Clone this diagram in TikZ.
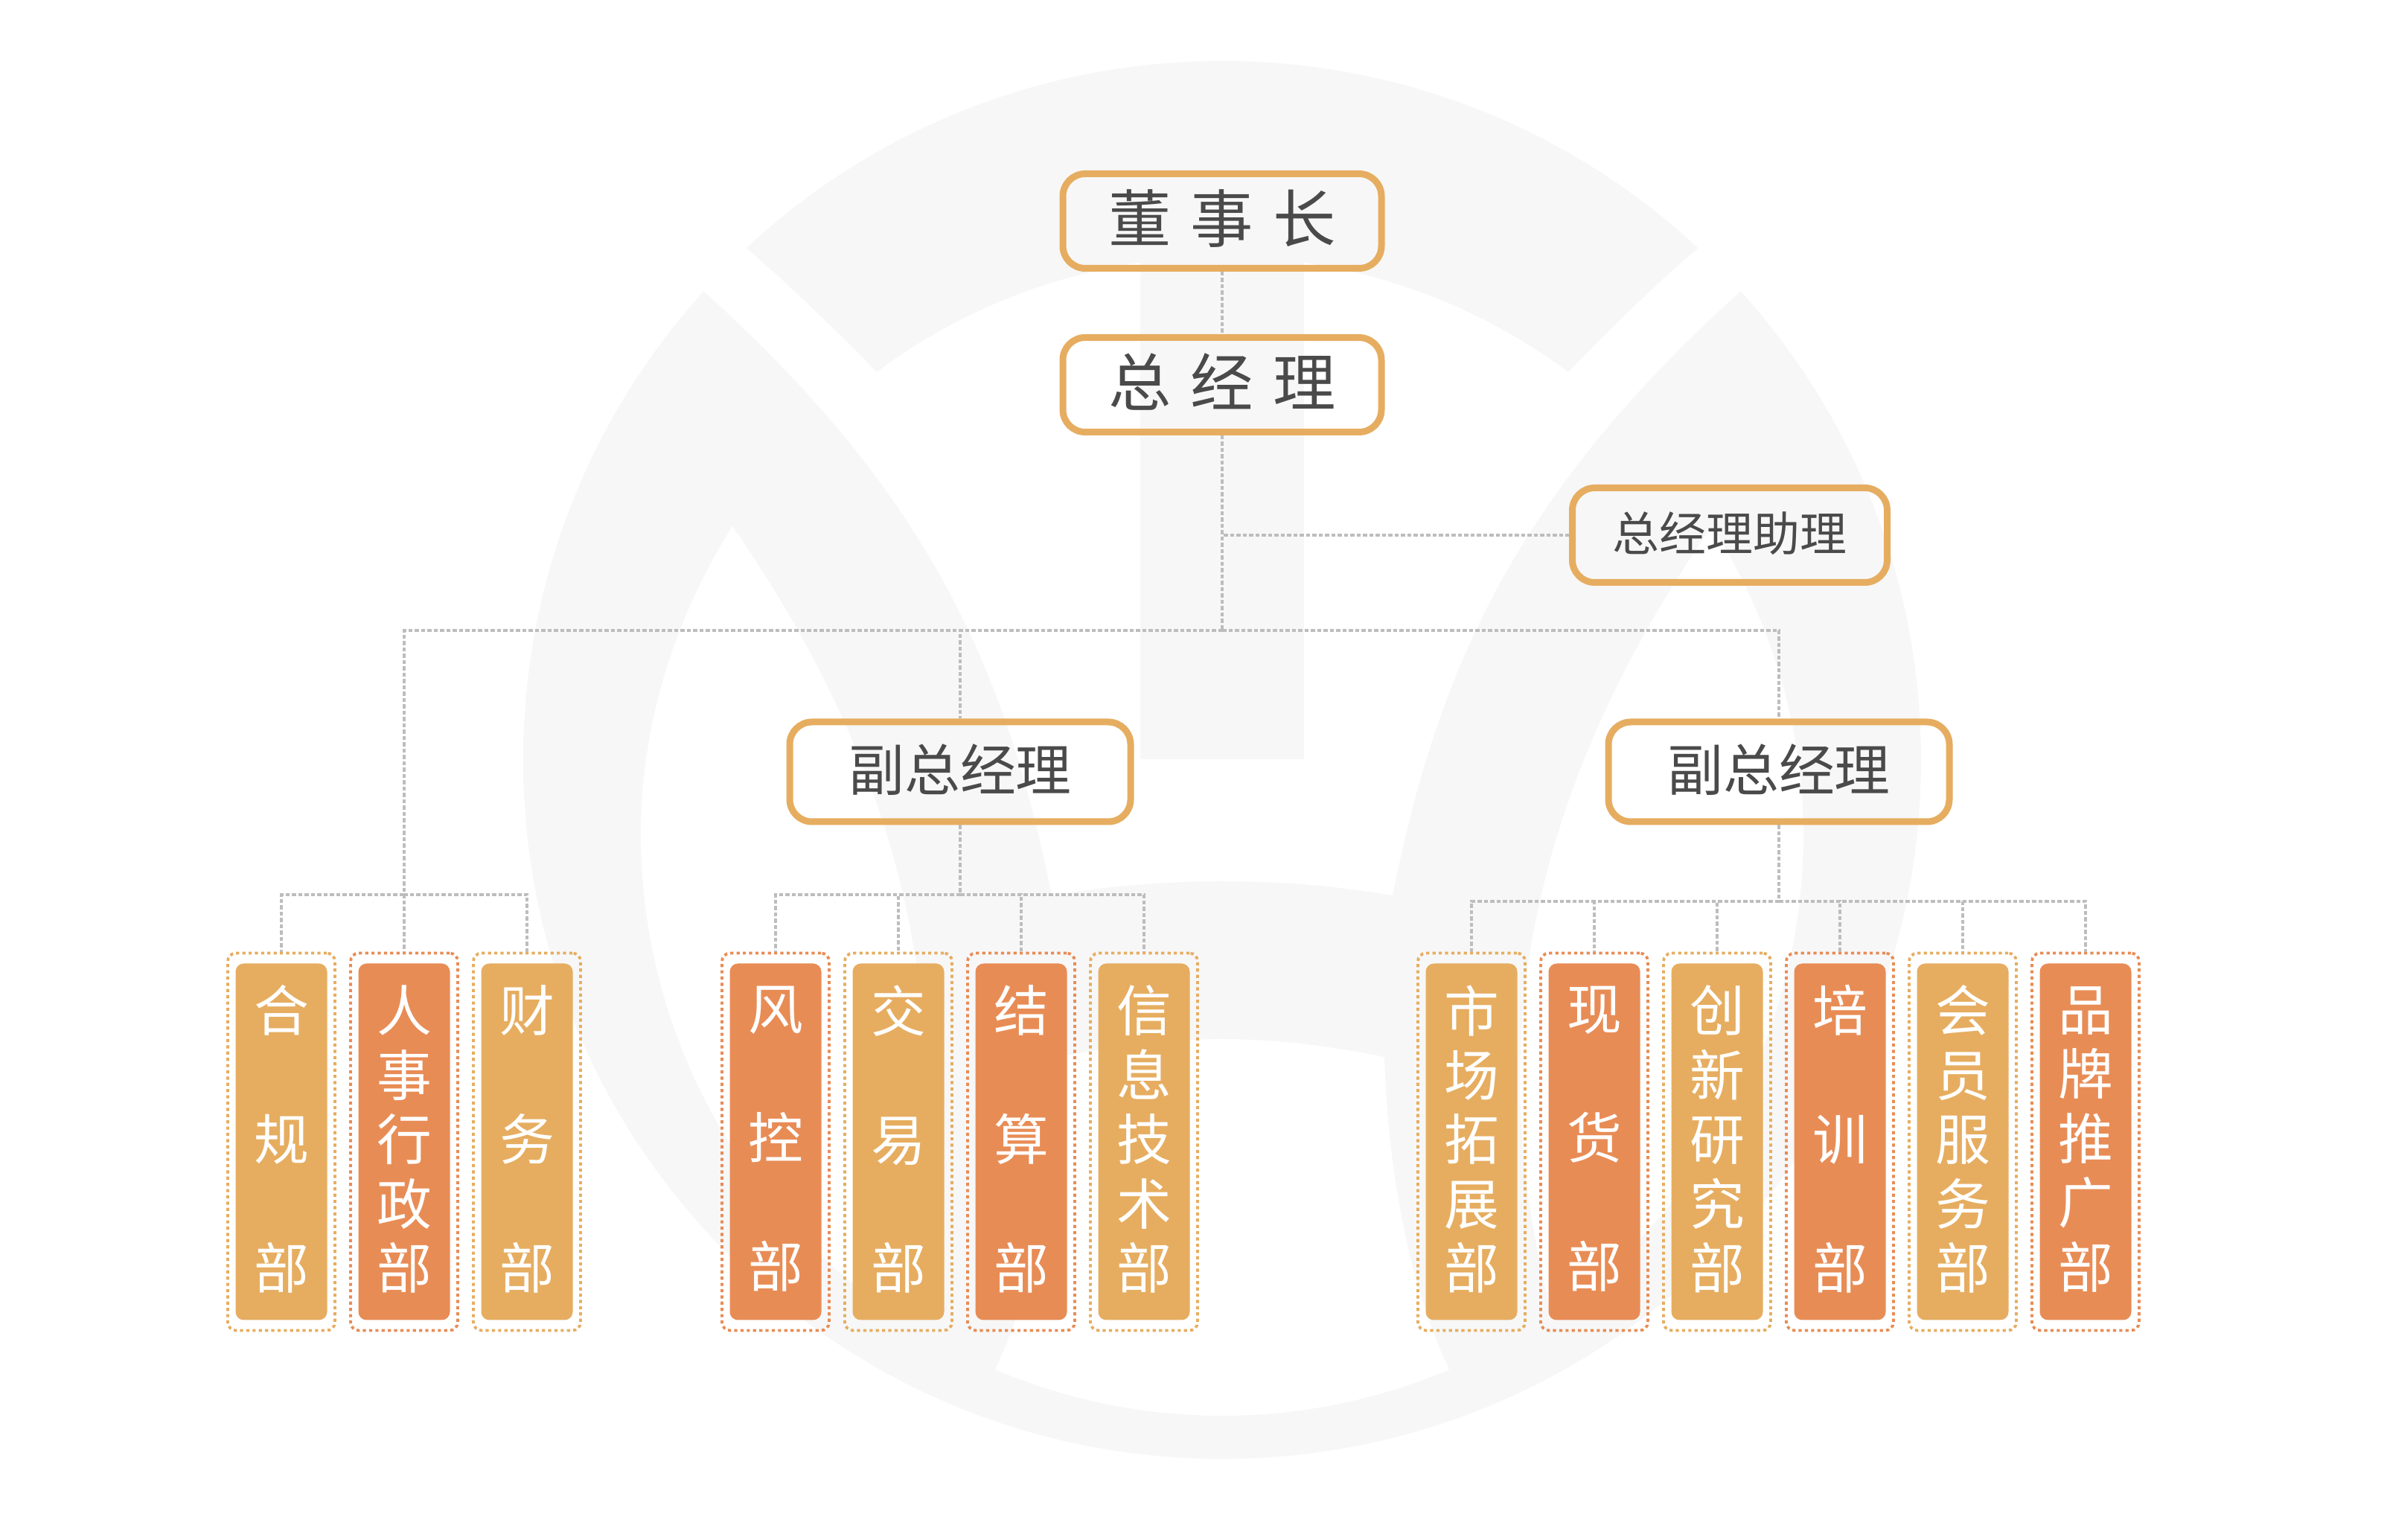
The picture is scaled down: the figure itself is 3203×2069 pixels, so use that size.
\documentclass[tikz,border=0pt]{standalone}
\usepackage{fontspec}
\setmainfont{Noto Sans CJK SC}
\usetikzlibrary{positioning}

\definecolor{gold}{HTML}{E6AD60}
\definecolor{coral}{HTML}{E88C55}
\definecolor{ink}{HTML}{4A4A4A}
\definecolor{wash}{HTML}{F7F7F7}
\definecolor{linkgray}{HTML}{BDBDBD}

\newcommand{\wgap}{\hskip 2.6mm}

\tikzset{
  head/.style={draw=gold, line width=0.9mm, rounded corners=3mm, text=ink,
    inner sep=0pt, minimum height=12.7mm},
  top head/.style={head, minimum width=42.8mm, text height=20.2pt, text depth=3.8pt,
    font=\fontsize{24pt}{26pt}\selectfont},
  vice head/.style={head, minimum width=45.8mm, minimum height=13.4mm, text height=17.9pt, text depth=3.4pt,
    font=\fontsize{21.3pt}{24pt}\selectfont},
  aide head/.style={head, minimum width=42.3mm, text height=15pt, text depth=2.9pt,
    font=\fontsize{17.9pt}{20pt}\selectfont},
  card/.style={text=white, rounded corners=1.1mm, inner sep=0pt, outer sep=0pt, align=center,
    minimum width=12.3mm, minimum height=47.9mm, text depth=3.6pt,
    font=\fontsize{21pt}{24.6pt}\selectfont},
  card gold/.style={card, fill=gold},
  card coral/.style={card, fill=coral},
  frame/.style={line width=0.38mm, dash pattern=on 0.42mm off 0.42mm, rounded corners=1.1mm,
    inner sep=0pt, minimum width=14.4mm, minimum height=50.7mm},
  frame gold/.style={frame, draw=gold},
  frame coral/.style={frame, draw=coral},
  link/.style={draw=linkgray, line width=0.4mm, dash pattern=on 0.55mm off 0.3mm},
}

\begin{document}
\begin{tikzpicture}[x=0.1mm,y=-0.1mm]
  \useasboundingbox (0,0) rectangle (3203,2069);
  \fill[white] (0,0) rectangle (3203,2069);

  % watermark
  \fill[wash] (1642,1021) circle [radius=9.39cm];
  \fill[white] (905,350) -- (945,391)
    .. controls (1250,665) and (1353,903) .. (1413,1203)
    .. controls (1490,1190) and (1565,1184) .. (1642,1184)
    .. controls (1719,1184) and (1794,1190) .. (1871,1203)
    .. controls (1931,903) and (2034,665) .. (2339,391)
    -- (2379,350) -- (2314,303) -- (2282,333)
    .. controls (2222,384) and (2165,440) .. (2107,500)
    .. controls (1973,400) and (1809,345) .. (1642,345)
    .. controls (1475,345) and (1311,400) .. (1178,500)
    .. controls (1119,440) and (1062,384) .. (1002,333)
    -- (970,303) -- cycle;
  \fill[white] (984,707)
    .. controls (906,831) and (861,974) .. (861,1121)
    .. controls (861,1378) and (988,1620) .. (1200,1765)
    .. controls (1225,1660) and (1242,1560) .. (1242,1450)
    .. controls (1242,1200) and (1154,952) .. (984,707) -- cycle;
  \fill[white] (2300,707)
    .. controls (2378,831) and (2423,974) .. (2423,1121)
    .. controls (2423,1378) and (2296,1620) .. (2084,1765)
    .. controls (2059,1660) and (2042,1560) .. (2042,1450)
    .. controls (2042,1200) and (2130,952) .. (2300,707) -- cycle;
  \fill[white] (1424,1420)
    .. controls (1500,1405) and (1570,1396) .. (1642,1396)
    .. controls (1714,1396) and (1784,1405) .. (1860,1420)
    .. controls (1864,1560) and (1890,1720) .. (1947,1840)
    .. controls (1850,1881) and (1747,1902) .. (1642,1902)
    .. controls (1537,1902) and (1434,1881) .. (1337,1840)
    .. controls (1394,1720) and (1420,1560) .. (1424,1420) -- cycle;
  \fill[wash] (1532,340) rectangle (1752,1020);

  % heads
  \node[top head]  (chair) at (1642,297)  {董\wgap 事\wgap 长};
  \node[top head]  (gm)    at (1642,517)  {总\wgap 经\wgap 理};
  \node[aide head] (aide)  at (2324,719)  {总经理助理};
  \node[vice head] (vp_a)  at (1290,1037) {副总经理};
  \node[vice head] (vp_b)  at (2390,1037) {副总经理};

  % left group
  \node[card gold]  (c_1) at (378,1534)      {合\\[24.6pt]规\\[24.6pt]部};
  \node[card coral] (c_2) [right=4.2mm of c_1] {人\\事\\行\\政\\部};
  \node[card gold]  (c_3) [right=4.2mm of c_2] {财\\[24.6pt]务\\[24.6pt]部};

  % middle group
  \node[card coral] (c_4) at (1042,1534)     {风\\[24.6pt]控\\[24.6pt]部};
  \node[card gold]  (c_5) [right=4.2mm of c_4] {交\\[24.6pt]易\\[24.6pt]部};
  \node[card coral] (c_6) [right=4.2mm of c_5] {结\\[24.6pt]算\\[24.6pt]部};
  \node[card gold]  (c_7) [right=4.2mm of c_6] {信\\息\\技\\术\\部};

  % right group
  \node[card gold]  (c_8)  at (1977,1534)     {市\\场\\拓\\展\\部};
  \node[card coral] (c_9)  [right=4.2mm of c_8]  {现\\[24.6pt]货\\[24.6pt]部};
  \node[card gold]  (c_10) [right=4.2mm of c_9]  {创\\新\\研\\究\\部};
  \node[card coral] (c_11) [right=4.2mm of c_10] {培\\[24.6pt]训\\[24.6pt]部};
  \node[card gold]  (c_12) [right=4.2mm of c_11] {会\\员\\服\\务\\部};
  \node[card coral] (c_13) [right=4.2mm of c_12] {品\\牌\\推\\广\\部};

  \node[frame gold]  (f_1)  at (c_1)  {};
  \node[frame coral] (f_2)  at (c_2)  {};
  \node[frame gold]  (f_3)  at (c_3)  {};
  \node[frame coral] (f_4)  at (c_4)  {};
  \node[frame gold]  (f_5)  at (c_5)  {};
  \node[frame coral] (f_6)  at (c_6)  {};
  \node[frame gold]  (f_7)  at (c_7)  {};
  \node[frame gold]  (f_8)  at (c_8)  {};
  \node[frame coral] (f_9)  at (c_9)  {};
  \node[frame gold]  (f_10) at (c_10) {};
  \node[frame coral] (f_11) at (c_11) {};
  \node[frame gold]  (f_12) at (c_12) {};
  \node[frame coral] (f_13) at (c_13) {};

  \coordinate (bus)   at (1642,847);
  \coordinate (bus_a) at (542,1202);
  \coordinate (bus_b) at (1290,1202);
  \coordinate (bus_c) at (2390,1211);

  \draw[link] (chair) -- (gm);
  \draw[link] (gm) -- (bus);
  \draw[link] (gm.south) |- (aide.west);
  \draw[link] (bus) -| (f_2.north);
  \draw[link] (bus) -| (vp_a.north);
  \draw[link] (bus) -| (vp_b.north);
  \draw[link] (bus_a) -| (f_1.north);
  \draw[link] (bus_a) -| (f_3.north);
  \draw[link] (vp_a.south) -- (bus_b);
  \draw[link] (bus_b) -| (f_4.north);
  \draw[link] (bus_b) -| (f_5.north);
  \draw[link] (bus_b) -| (f_6.north);
  \draw[link] (bus_b) -| (f_7.north);
  \draw[link] (vp_b.south) -- (bus_c);
  \draw[link] (bus_c) -| (f_8.north);
  \draw[link] (bus_c) -| (f_9.north);
  \draw[link] (bus_c) -| (f_10.north);
  \draw[link] (bus_c) -| (f_11.north);
  \draw[link] (bus_c) -| (f_12.north);
  \draw[link] (bus_c) -| (f_13.north);
\end{tikzpicture}
\end{document}
